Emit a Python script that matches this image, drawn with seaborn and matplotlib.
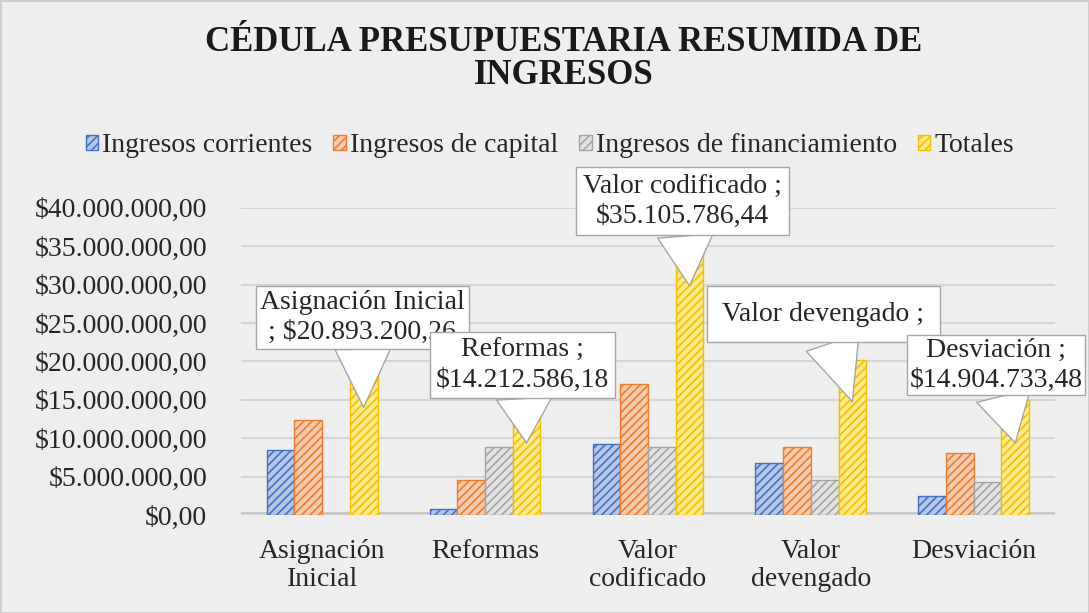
import matplotlib
matplotlib.use("Agg")
import matplotlib.pyplot as plt
from matplotlib.patches import Patch
from matplotlib.ticker import FuncFormatter
import seaborn as sns
import pandas as pd

# datos
categorias = ["Asignación\nInicial", "Reformas", "Valor\ncodificado", "Valor\ndevengado", "Desviación"]
series = ["Ingresos corrientes", "Ingresos de capital", "Ingresos de financiamiento", "Totales"]
corrientes = [8_500_000, 800_000, 9_300_000, 6_800_000, 2_500_000]
capital = [12_400_000, 4_600_000, 17_000_000, 8_900_000, 8_100_000]
financiamiento = [0, 8_800_000, 8_800_000, 4_500_000, 4_300_000]
totales = [20893200.26, 14212586.18, 35105786.44, 20201052.96, 14904733.48]
etiquetas = ["Asignación Inicial\n; $20.893.200,26",
             "Reformas ;\n$14.212.586,18",
             "Valor codificado ;\n$35.105.786,44",
             "Valor devengado ;",
             "Desviación ;\n$14.904.733,48"]

# estilo
relleno = ["#B4C7E7", "#F8CBAD", "#E2E2E2", "#FFE98A"]
borde = ["#4472C4", "#ED7D31", "#A5A5A5", "#F2C200"]
fondo = "#EEEEEE"
ancho = 0.68
puntas = [0.67, 0.66, 0.85, 0.73, 0.63]
desplaz = [(-1, 65), (-3, 56), (-5, 61), (-21, 63), (-14, 56)]
pads = [0.15, 0.2, 0.25, 0.55, 0.1]

df = pd.DataFrame({
    "categoria": categorias * 4,
    "serie": [s for s in series for _ in categorias],
    "valor": corrientes + capital + financiamiento + totales,
})

sns.set_style("white")
plt.rcParams["font.family"] = ["Liberation Serif", "DejaVu Serif"]
plt.rcParams["hatch.linewidth"] = 1.2

fig = plt.figure(figsize=(10.89, 6.13), dpi=100)
fig.patch.set_facecolor(fondo)
fig.patch.set_edgecolor("#CFCFCF")
fig.patch.set_linewidth(2)
ax = fig.add_axes([0.221, 0.160, 0.748, 0.501])
ax.set_facecolor(fondo)

sns.barplot(data=df, x="categoria", y="valor", hue="serie", palette=relleno,
            width=ancho, saturation=1, legend=False, ax=ax)

for cont, ec in zip(ax.containers, borde):
    for bar in cont:
        bar.set_edgecolor(ec)
        bar.set_hatch("////")
        bar.set_linewidth(1)

ax.set_xlim(-0.5, 4.5)
ax.set_ylim(0, 40_000_000)
ax.set_yticks(range(0, 40_000_001, 5_000_000))


def pesos(v, pos=None):
    s = f"{v:,.2f}"
    return "$" + s.replace(",", "X").replace(".", ",").replace("X", ".")


ax.yaxis.set_major_formatter(FuncFormatter(pesos))
ax.yaxis.grid(True, color="#D6D6D6", lw=1.5)
ax.set_axisbelow(True)
ax.axhline(0, color="#C8C8C8", lw=5, zorder=0)
sns.despine(ax=ax, left=True, bottom=True)
ax.tick_params(axis="y", length=0, pad=24, labelsize=20)
ax.tick_params(axis="x", length=0, pad=17, labelsize=20)
for t in ax.get_xticklabels():
    t.set_linespacing(1.2)
ax.set_xlabel("")
ax.set_ylabel("")

# etiquetas tipo globo
paso = ancho / 4
for i, (v, txt, fr, off, pd_) in enumerate(zip(totales, etiquetas, puntas, desplaz, pads)):
    ax.annotate(txt, xy=(i + 1.5 * paso, v * fr), xytext=off, textcoords="offset points",
                ha="center", va="center", fontsize=20, linespacing=1.25,
                bbox=dict(boxstyle=f"square,pad={pd_}", fc="white", ec="#A6A6A6", lw=1),
                arrowprops=dict(arrowstyle="wedge,tail_width=2.0", fc="white", ec="#A6A6A6",
                                lw=1, shrinkA=0, shrinkB=0),
                annotation_clip=False, zorder=5)

manijas = [Patch(facecolor=f, edgecolor=e, hatch="////") for f, e in zip(relleno, borde)]
fig.legend(manijas, series, loc="center", bbox_to_anchor=(0.505, 0.762), ncol=4,
           frameon=False, fontsize=20, handlelength=0.45, handleheight=0.45,
           handletextpad=0.15, columnspacing=0.75)

fig.text(0.518, 0.958, "CÉDULA PRESUPUESTARIA RESUMIDA DE\nINGRESOS", ha="center", va="top",
         fontsize=25, fontweight="bold", color="#1A1A1A", linespacing=1.0)

fig.savefig("out.png", dpi=100, facecolor=fondo, edgecolor=fig.patch.get_edgecolor())
